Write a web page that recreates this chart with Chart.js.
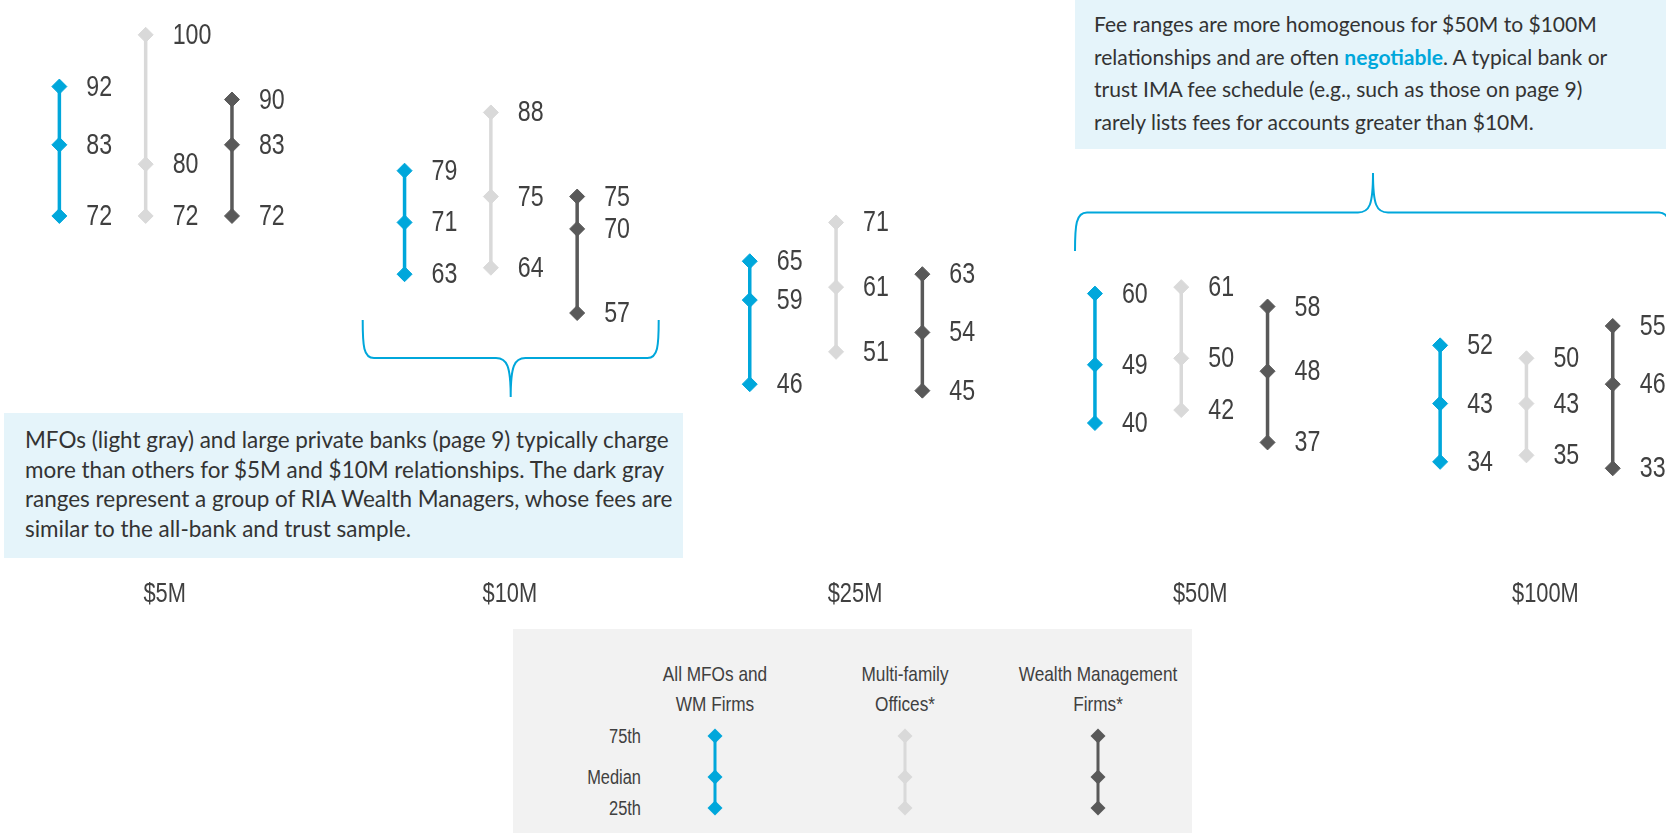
<!DOCTYPE html>
<html>
<head>
<meta charset="utf-8">
<script src="https://cdn.jsdelivr.net/npm/chart.js@4.4.0/dist/chart.umd.min.js"></script>
<style>
  html, body { margin: 0; padding: 0; background: #fff; }
  #wrap { position: relative; width: 1666px; height: 833px; overflow: hidden; }
  #chart { position: absolute; left: 0; top: 0; }
  .note { position: absolute; background: #e5f4fa; color: #333; box-sizing: border-box; white-space: nowrap;
    font-family: "Lato", sans-serif; }
  #noteTop { left: 1075px; top: 0; width: 600px; height: 149px; padding: 8px 0 0 19px; font-size: 21px; line-height: 32.6px; }
  #noteLeft { left: 4px; top: 413px; width: 679px; height: 145px; padding: 12px 0 0 21px; font-size: 20px; line-height: 29.7px; }
  .note span { display: inline-block; }
  .note b { color: #00a7db; }
  #legend { position: absolute; left: 513px; top: 629px; width: 679px; height: 204px; background: #f2f2f2;
    font-family: "Liberation Sans", sans-serif; color: #404040; }
  .lh { position: absolute; width: 200px; text-align: center; line-height: 29.8px; font-size: 21px;
    transform: scaleX(0.82); transform-origin: center; }
  .lr { position: absolute; width: 100px; text-align: right; line-height: 20px; font-size: 20px;
    transform: scaleX(0.82); transform-origin: right; }
  svg { position: absolute; left: 0; top: 0; }
</style>
</head>
<body>
<div id="wrap">
  <canvas id="chart" width="1666" height="833"></canvas>
  <svg width="1666" height="833" id="brackets">
    <path d="M362.7 320 C362.7 346 363.5 358 374 358 L496 358 C507 358 510.7 366 510.7 397 C510.7 366 514.4 358 525.4 358 L647.4 358 C657.9 358 658.7 346 658.7 320"
      fill="none" stroke="#00a7db" stroke-width="2"/>
    <path d="M1075 251 C1075 225 1076 212.5 1087 212.5 L1358 212.5 C1369.5 212.5 1373 205 1373 173 C1373 205 1376.5 212.5 1388 212.5 L1659 212.5 C1670 212.5 1671 225 1671 251"
      fill="none" stroke="#00a7db" stroke-width="2"/>
  </svg>
  <div class="note" id="noteTop"><span>Fee ranges are more homogenous for $50M to $100M</span><br><span>relationships and are often <b>negotiable</b>. A typical bank or</span><br><span>trust IMA fee schedule (e.g., such as those on page 9)</span><br><span>rarely lists fees for accounts greater than $10M.</span></div>
  <div class="note" id="noteLeft"><span>MFOs (light gray) and large private banks (page 9) typically charge</span><br><span>more than others for $5M and $10M relationships. The dark gray</span><br><span>ranges represent a group of RIA Wealth Managers, whose fees are</span><br><span>similar to the all-bank and trust sample.</span></div>
  <div id="legend"></div>
</div>
<script>
// fee levels (bps) per relationship size
const categories = ["$5M", "$10M", "$25M", "$50M", "$100M"];

const allP25 = [72, 63, 46, 40, 34];
const allMed = [83, 71, 59, 49, 43];
const allP75 = [92, 79, 65, 60, 52];

const mfoP25 = [72, 64, 51, 42, 35];
const mfoMed = [80, 75, 61, 50, 43];
const mfoP75 = [100, 88, 71, 61, 50];

const wmP25 = [72, 57, 45, 37, 33];
const wmMed = [83, 70, 54, 48, 46];
const wmP75 = [90, 75, 63, 58, 55];

const seriesNames = ["All MFOs and WM Firms", "Multi-family Offices*", "Wealth Management Firms*"];
const rowLabels = ["75th", "Median", "25th"];

const BLUE = "#00a7db", LIGHT = "#d9d9d9", DARK = "#595959", TEXT = "#404040";
const FONT = '"Liberation Sans", Arial, sans-serif';

function buildSeries(p25, med, p75, offset) {
  const pts = [];
  categories.forEach((c, i) => {
    pts.push({ x: i + offset, y: p75[i] });
    pts.push({ x: i + offset, y: med[i] });
    pts.push({ x: i + offset, y: p25[i] });
    pts.push({ x: i + offset, y: null });
  });
  return pts;
}

function rangeDataset(label, data, color) {
  return {
    label, data,
    borderColor: color, backgroundColor: color,
    borderWidth: 3.5,
    pointStyle: "rectRot", pointRadius: 7.5, pointBorderWidth: 1,
    pointBorderColor: color, pointBackgroundColor: color,
    spanGaps: false, clip: false
  };
}

// narrow text: squeeze Liberation Sans horizontally
function narrowText(ctx, txt, x, y, sx) {
  ctx.save();
  ctx.translate(x, y);
  ctx.scale(sx, 1);
  ctx.fillText(txt, 0, 0);
  ctx.restore();
}

// value labels beside each diamond + size labels under each group
const labelPlugin = {
  id: "valueLabels",
  afterDatasetsDraw(chart) {
    const ctx = chart.ctx;
    ctx.save();
    ctx.fillStyle = TEXT;
    ctx.font = "29px " + FONT;
    ctx.textAlign = "left";
    ctx.textBaseline = "middle";
    chart.data.datasets.forEach((ds, di) => {
      chart.getDatasetMeta(di).data.forEach((pt, j) => {
        const v = ds.data[j].y;
        if (v === null) return;
        narrowText(ctx, String(v), pt.x + 27, pt.y + 1, 0.8);
      });
    });
    ctx.font = "28px " + FONT;
    ctx.textAlign = "center";
    categories.forEach((c, i) => {
      narrowText(ctx, c, chart.scales.x.getPixelForValue(i + 0.012), 594, 0.78);
    });
    ctx.restore();
  }
};

new Chart(document.getElementById("chart"), {
  type: "line",
  data: {
    datasets: [
      rangeDataset(seriesNames[0], buildSeries(allP25, allMed, allP75, -0.293), BLUE),
      rangeDataset(seriesNames[1], buildSeries(mfoP25, mfoMed, mfoP75, -0.043), LIGHT),
      rangeDataset(seriesNames[2], buildSeries(wmP25, wmMed, wmP75, 0.207), DARK)
    ]
  },
  options: {
    responsive: false,
    animation: false,
    layout: { padding: 0, autoPadding: false },
    plugins: { legend: { display: false }, tooltip: { enabled: false } },
    scales: {
      x: { type: "linear", display: false, min: -0.465, max: 4.3613 },
      y: { type: "linear", display: false, min: -23.37, max: 105.38 }
    }
  },
  plugins: [labelPlugin]
});

// fit the note text to the reference line widths
function fitNote(id, targetWidth) {
  const el = document.getElementById(id);
  const first = el.querySelector("span");
  const size = parseFloat(getComputedStyle(el).fontSize);
  el.style.fontSize = (size * targetWidth / first.getBoundingClientRect().width) + "px";
}
fitNote("noteTop", 503);
fitNote("noteLeft", 644);

// legend box
const legend = document.getElementById("legend");
const colX = [202, 392, 585];
const colors = [BLUE, LIGHT, DARK];
const heads = [["All MFOs and", "WM Firms"], ["Multi-family", "Offices*"], ["Wealth Management", "Firms*"]];
const rowY = [107, 148, 179];
heads.forEach((h, i) => {
  const d = document.createElement("div");
  d.className = "lh";
  d.style.left = (colX[i] - 100) + "px";
  d.style.top = "30px";
  d.innerHTML = h.join("<br>");
  legend.appendChild(d);
});
rowLabels.forEach((r, i) => {
  const d = document.createElement("div");
  d.className = "lr";
  d.style.left = (128 - 100) + "px";
  d.style.top = (rowY[i] - 10) + "px";
  d.textContent = r;
  legend.appendChild(d);
});
let svg = '<svg width="679" height="204">';
colors.forEach((c, i) => {
  const x = colX[i];
  svg += `<line x1="${x}" y1="${rowY[0]}" x2="${x}" y2="${rowY[2]}" stroke="${c}" stroke-width="3"/>`;
  rowY.forEach(y => {
    svg += `<polygon points="${x},${y - 7.5} ${x + 7.5},${y} ${x},${y + 7.5} ${x - 7.5},${y}" fill="${c}"/>`;
  });
});
svg += "</svg>";
legend.insertAdjacentHTML("afterbegin", svg);
</script>
</body>
</html>
